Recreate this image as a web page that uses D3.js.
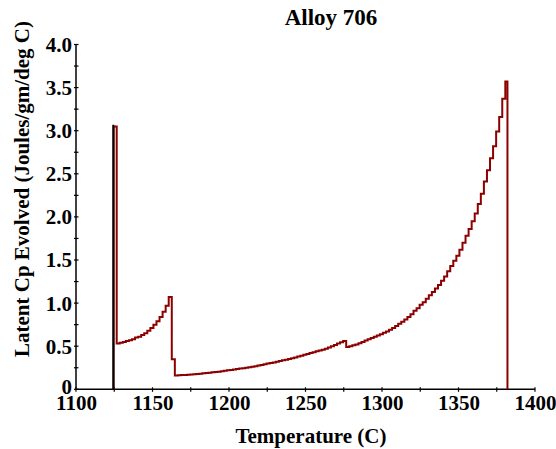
<!DOCTYPE html>
<html>
<head>
<meta charset="utf-8">
<script src="https://cdn.jsdelivr.net/npm/d3@7"></script>
<style>
  body { margin: 0; background: #fff; }
  text { font-family: "Liberation Serif", "Times New Roman", serif; font-weight: bold; fill: #000; }
</style>
</head>
<body>
<svg id="chart" width="556" height="449"></svg>
<script>
// Latent heat evolved during solidification of Alloy 706, sampled in 2-degree steps
const stepStarts = d3.range(1124.6, 1381, 2);
const cpValues = [
  3.05,
  // primary solidification
  0.53, 0.54, 0.55, 0.56, 0.57, 0.58, 0.60, 0.61, 0.63, 0.65,
  0.68, 0.71, 0.75, 0.79, 0.84, 0.90, 0.97, 1.07,
  0.35,
  // slow rise through the mushy zone
  0.16, 0.162, 0.165, 0.167, 0.17, 0.173, 0.175, 0.178, 0.18, 0.185,
  0.19, 0.193, 0.197, 0.20, 0.205, 0.21, 0.215, 0.22, 0.225, 0.23,
  0.235, 0.24, 0.245, 0.25, 0.256, 0.262, 0.268, 0.275, 0.282, 0.29,
  0.298, 0.305, 0.312, 0.32, 0.328, 0.336, 0.344, 0.352, 0.36, 0.37,
  0.38, 0.39, 0.40, 0.41, 0.42, 0.43, 0.44, 0.45, 0.46, 0.47,
  0.485, 0.50, 0.515, 0.53, 0.545, 0.56, 0.49, 0.50, 0.51, 0.52,
  0.535, 0.55, 0.565, 0.58, 0.595, 0.61, 0.625, 0.64, 0.655, 0.67,
  0.69, 0.71, 0.735, 0.76, 0.785,
  // approach to the liquidus
  0.81, 0.84, 0.87, 0.91, 0.94, 0.98, 1.01, 1.05, 1.09, 1.13,
  1.17, 1.21, 1.26, 1.31, 1.37, 1.43, 1.49, 1.55, 1.62, 1.70,
  1.78, 1.86, 1.95, 2.04, 2.15, 2.27, 2.41, 2.54, 2.68, 2.82,
  2.99, 3.16, 3.37, 3.57
];
const liquidusTemp = 1382;
const solidusTemp = 1124.4;
const solidusPeak = 3.07;

const xMajorTicks = [1100, 1150, 1200, 1250, 1300, 1350, 1400];
const xMinorTicks = [1125, 1175, 1225, 1275, 1325, 1375];
const yMajorTicks = [0, 0.5, 1.0, 1.5, 2.0, 2.5, 3.0, 3.5, 4.0];
const yMinorTicks = [0.25, 0.75, 1.25, 1.75, 2.25, 2.75, 3.25, 3.75];

const svg = d3.select("#chart");
const plotLeft = 76, plotRight = 535, plotTop = 44.5, plotBottom = 389.3;

const x = d3.scaleLinear().domain([1100, 1400]).range([plotLeft, plotRight]);
const y = d3.scaleLinear().domain([0, 4]).range([plotBottom, plotTop]);

// title
svg.append("text")
  .attr("x", 331).attr("y", 25)
  .attr("text-anchor", "middle")
  .style("font-size", "23px")
  .text("Alloy 706");

// axes (labels from the axis generators, crossing ticks drawn separately)
const xAxis = d3.axisBottom(x).tickValues(xMajorTicks).tickSize(0).tickPadding(4)
  .tickFormat(d3.format("d"));
const yAxis = d3.axisLeft(y).tickValues(yMajorTicks).tickSize(0).tickPadding(4)
  .tickFormat(d => d === 0 ? "0" : d3.format(".1f")(d));

const gx = svg.append("g").attr("transform", `translate(0,${plotBottom})`).call(xAxis);
const gy = svg.append("g").attr("transform", `translate(${plotLeft},0)`).call(yAxis);
[gx, gy].forEach(g => {
  g.select(".domain").remove();
  g.attr("font-family", null).attr("font-size", null);
  g.selectAll("text").style("font-size", "21px");
});
gx.selectAll("text").attr("dy", "0.8em");
gy.selectAll("text").attr("dy", d => d === 0 ? "0.2em" : "0.33em");

svg.append("line")
  .attr("x1", plotLeft).attr("x2", plotRight).attr("y1", plotBottom).attr("y2", plotBottom)
  .attr("stroke", "#000").attr("stroke-width", 1.5);
svg.append("line")
  .attr("x1", plotLeft).attr("x2", plotLeft).attr("y1", plotTop).attr("y2", plotBottom)
  .attr("stroke", "#000").attr("stroke-width", 1.5);

svg.append("g").selectAll("line")
  .data(xMajorTicks.concat(xMinorTicks))
  .join("line")
  .attr("x1", d => x(d)).attr("x2", d => x(d))
  .attr("y1", plotBottom - 2).attr("y2", plotBottom + 2.5)
  .attr("stroke", "#000").attr("stroke-width", 1.2);
svg.append("g").selectAll("line")
  .data(yMajorTicks.concat(yMinorTicks))
  .join("line")
  .attr("x1", plotLeft - 2).attr("x2", plotLeft + 2.5)
  .attr("y1", d => y(d)).attr("y2", d => y(d))
  .attr("stroke", "#000").attr("stroke-width", 1.2);

// axis titles
svg.append("text")
  .attr("x", 311).attr("y", 443)
  .attr("text-anchor", "middle")
  .style("font-size", "21px")
  .text("Temperature (C)");
svg.append("text")
  .attr("transform", "translate(29,189) rotate(-90)")
  .attr("text-anchor", "middle")
  .style("font-size", "21px")
  .text("Latent Cp Evolved (Joules/gm/deg C)");

// stepped latent Cp curve
const curvePts = [{ t: stepStarts[0], v: 0 }]
  .concat(stepStarts.map((t, i) => ({ t, v: cpValues[i] })))
  .concat([{ t: liquidusTemp, v: 0 }]);

const line = d3.line()
  .x(d => x(d.t))
  .y(d => y(d.v))
  .curve(d3.curveStepAfter);

svg.append("path")
  .datum(curvePts)
  .attr("fill", "none")
  .attr("stroke", "#8b0000")
  .attr("stroke-width", 2)
  .attr("d", line);

// solidus marker
svg.append("path")
  .datum([{ t: solidusTemp, v: 0 }, { t: solidusTemp, v: solidusPeak }])
  .attr("fill", "none")
  .attr("stroke", "#000")
  .attr("stroke-width", 2)
  .attr("d", d3.line().x(d => x(d.t)).y(d => y(d.v)));
</script>
</body>
</html>
